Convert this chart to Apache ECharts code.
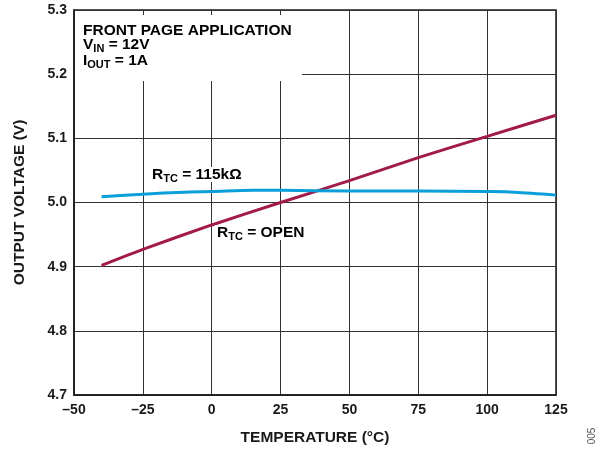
<!DOCTYPE html>
<html>
<head>
<meta charset="utf-8">
<script src="https://cdn.jsdelivr.net/npm/echarts@6/dist/echarts.min.js"></script>
<style>
  html, body { margin: 0; padding: 0; background: #fff; }
  #main { width: 602px; height: 455px; }
</style>
</head>
<body>
<div id="main"></div>
<script>
// 数据
var tempOpen = [-40, -25, 0, 25, 50, 75, 100, 125];
var voltOpen = [4.902, 4.927, 4.965, 5.0, 5.034, 5.070, 5.103, 5.136];
var temp115k = [-40, -25, -10, 0, 15, 25, 50, 75, 100, 110, 125];
var volt115k = [5.009, 5.013, 5.016, 5.017, 5.019, 5.019, 5.018, 5.018, 5.017, 5.016, 5.0115];
var xMin = -50, xMax = 125, xStep = 25;
var yMin = 4.7, yMax = 5.3, yStep = 0.1;

var FONT = '"Liberation Sans", Arial, Helvetica, sans-serif';

function pairs(xs, ys) {
    var out = [];
    for (var i = 0; i < xs.length; i++) {
        out.push([xs[i], ys[i]]);
    }
    return out;
}

// 带下标的富文本样式
var richSub = {
    m: { fontFamily: FONT, fontSize: 15.5, fontWeight: 'bold', color: '#1a1a1a', lineHeight: 15 },
    s: { fontFamily: FONT, fontSize: 11, fontWeight: 'bold', color: '#1a1a1a', lineHeight: 11, padding: [8, 0, 0, 0] }
};

var chart = echarts.init(document.getElementById('main'), null, { renderer: 'canvas' });

var option = {
    backgroundColor: '#fff',
    animation: false,
    grid: {
        left: 74, right: 46, top: 10, bottom: 60,
        show: true,
        borderColor: '#1a1a1a',
        borderWidth: 1.5
    },
    xAxis: {
        type: 'value',
        min: xMin, max: xMax, interval: xStep,
        name: 'TEMPERATURE (°C)',
        nameLocation: 'middle',
        nameGap: 35,
        nameTextStyle: { fontFamily: FONT, fontSize: 15.5, fontWeight: 'bold', color: '#1a1a1a' },
        axisLine: { show: true, onZero: false, lineStyle: { color: '#1a1a1a', width: 1.5 } },
        axisTick: { show: false },
        axisLabel: {
            margin: 8,
            fontFamily: FONT, fontSize: 14, fontWeight: 'bold', color: '#1a1a1a',
            formatter: function (v) { return v < 0 ? '\u2013' + Math.abs(v) : String(v); }
        },
        splitLine: { show: true, lineStyle: { color: '#333', width: 1 } }
    },
    yAxis: {
        type: 'value',
        min: yMin, max: yMax, interval: yStep,
        name: 'OUTPUT VOLTAGE (V)',
        nameLocation: 'middle',
        nameGap: 46,
        nameTextStyle: { fontFamily: FONT, fontSize: 15.5, fontWeight: 'bold', color: '#1a1a1a' },
        axisLine: { show: true, onZero: false, lineStyle: { color: '#1a1a1a', width: 1.5 } },
        axisTick: { show: false },
        axisLabel: {
            margin: 7,
            fontFamily: FONT, fontSize: 14, fontWeight: 'bold', color: '#1a1a1a',
            formatter: function (v) { return v.toFixed(1); }
        },
        splitLine: { show: true, lineStyle: { color: '#333', width: 1 } }
    },
    series: [{
        name: 'RTC = OPEN',
        type: 'line',
        data: pairs(tempOpen, voltOpen),
        smooth: 0.2,
        showSymbol: false,
        lineStyle: { color: '#a21a4a', width: 3 },
        z: 3
    }, {
        name: 'RTC = 115kΩ',
        type: 'line',
        data: pairs(temp115k, volt115k),
        smooth: 0.3,
        showSymbol: false,
        lineStyle: { color: '#0a9fd8', width: 3 },
        z: 4
    }],
    graphic: [
        // 左上角说明框（白底遮住网格）
        { type: 'rect', left: 75, top: 15, shape: { width: 227, height: 66 }, style: { fill: '#fff' }, z: 50 },
        { type: 'text', left: 83, top: 23, z: 51,
          style: { text: '{m|FRONT PAGE APPLICATION}', rich: richSub } },
        { type: 'text', left: 83, top: 35, z: 51,
          style: { text: '{m|V}{s|IN}{m| = 12V}', rich: richSub } },
        { type: 'text', left: 83, top: 51, z: 51,
          style: { text: '{m|I}{s|OUT}{m| = 1A}', rich: richSub } },
        // 曲线标注
        { type: 'text', left: 150, top: 165, z: 51,
          style: { text: '{m|R}{s|TC}{m| = 115kΩ}', rich: richSub, backgroundColor: '#fff', padding: [0, 2, 0, 2] } },
        { type: 'text', left: 215, top: 223, z: 51,
          style: { text: '{m|R}{s|TC}{m| = OPEN}', rich: richSub, backgroundColor: '#fff', padding: [0, 2, 0, 2] } },
        // 图号
        { type: 'text', x: 592, y: 436, rotation: Math.PI / 2, z: 51,
          style: { text: '005', fontFamily: FONT, fontSize: 10, fill: '#555', align: 'center', verticalAlign: 'middle' } }
    ]
};

chart.setOption(option);
</script>
</body>
</html>
